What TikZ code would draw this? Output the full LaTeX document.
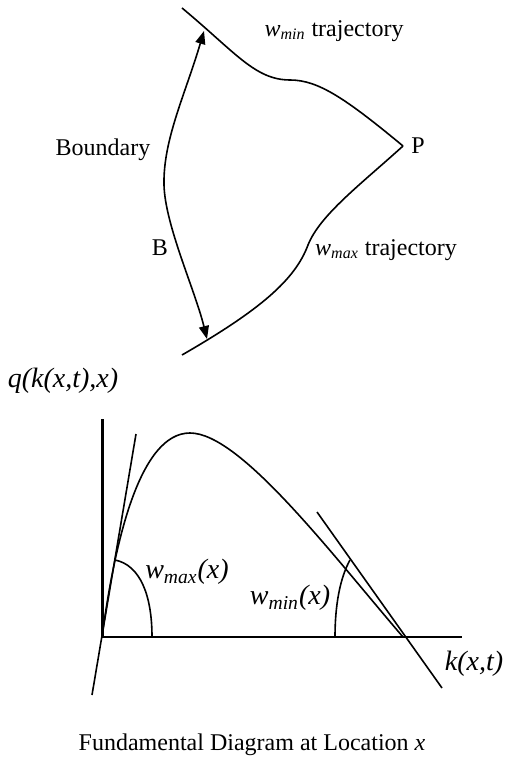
\documentclass[tikz,border=0pt]{standalone}
\usepackage{fontspec}
\setmainfont{Liberation Serif}
\usetikzlibrary{positioning,arrows.meta}

\begin{document}
\begin{tikzpicture}[x=0.5pt, y=-0.5pt,
  traj/.style={line width=0.8pt},
  axis/.style={line width=1.1pt},
  lbl/.style={font=\fontsize{12}{14}\selectfont, inner sep=1pt},
  biglbl/.style={font=\fontsize{14}{16}\selectfont\itshape, inner sep=1pt},
  >={Triangle[length=6.5pt,width=5pt]}
]
  \useasboundingbox (0,0) rectangle (504,763);

  % trajectories and boundary
  \coordinate (tmin) at (182,8);
  \coordinate (apex) at (403,146);
  \coordinate (tmax) at (182,355);
  \coordinate (btop) at (204,31);
  \coordinate (bbot) at (207,339);

  \draw[traj] (tmin) .. controls (235,52) and (255,80) .. (290,80)
              .. controls (318,80) and (345,98) .. (apex);
  \draw[traj] (apex) .. controls (360,185) and (320,215) .. (308,245)
              .. controls (295,280) and (260,310) .. (tmax);
  \draw[traj, <->] (btop) .. controls (185,95) and (163,140) .. (164,185)
              .. controls (165,225) and (195,290) .. (bbot);

  \node[lbl, right=3pt of apex] (p) {P};
  \node[lbl] (bnd) at (103,150) {Boundary};
  \node[lbl] (b) at (160,248) {B};
  \node[lbl] (wmintr) at (334,31) {\textit{w\textsubscript{min}} trajectory};
  \node[lbl] (wmaxtr) at (386,250) {\textit{w\textsubscript{max}} trajectory};

  % fundamental diagram
  \coordinate (orig) at (102,637);
  \coordinate (qtop) at (102,419);
  \coordinate (kend) at (462,637);
  \coordinate (jam) at (403,637);
  \coordinate (lt1) at (92,695);
  \coordinate (lt2) at (136,434);
  \coordinate (rt1) at (317,512);
  \coordinate (rt2) at (442,688);

  \draw[line width=1.5pt] (orig) -- (qtop);
  \draw[axis] (orig) -- (kend);
  \draw[traj] (orig) .. controls (115,540) and (140,433) .. (190,433)
              .. controls (240,433) and (330,552) .. (jam);
  \draw[traj] (lt1) -- (lt2);
  \draw[traj] (rt1) -- (rt2);
  \draw[traj] (115,560) .. controls (140,565) and (152,595) .. (152,637);
  \draw[traj] (335,637) .. controls (335,605) and (340,578) .. (350,560);

  \node[biglbl] (qlbl) at (63,381) {q(k(x,t),x)};
  \node[biglbl] (klbl) at (474,664) {k(x,t)};
  \node[biglbl] (wmaxlbl) at (187,572) {w\textsubscript{max}(x)};
  \node[biglbl] (wminlbl) at (290,598) {w\textsubscript{min}(x)};
  \node[lbl] (caption) at (252,745) {Fundamental Diagram at Location \textit{x}};
\end{tikzpicture}
\end{document}
